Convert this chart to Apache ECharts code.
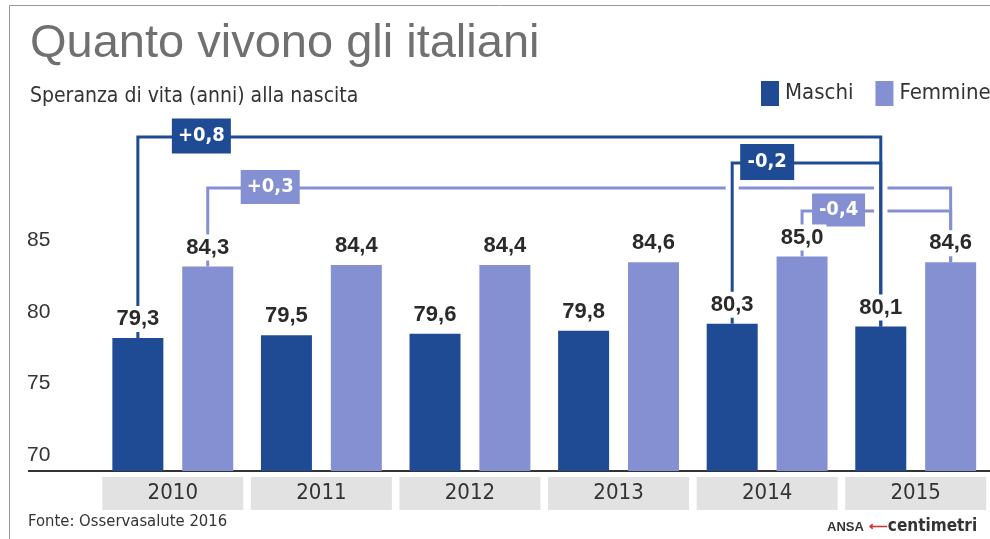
<!DOCTYPE html>
<html>
<head>
<meta charset="utf-8">
<script src="https://cdn.jsdelivr.net/npm/echarts@6/dist/echarts.min.js"></script>
<style>
  html, body { margin: 0; padding: 0; background: #ffffff; }
  #chart { width: 990px; height: 539px; }
</style>
</head>
<body>
<div id="chart"></div>
<script>
// Life expectancy at birth in Italy, by sex
const years = ['2010', '2011', '2012', '2013', '2014', '2015'];
const maschi = [79.3, 79.5, 79.6, 79.8, 80.3, 80.1];
const femmine = [84.3, 84.4, 84.4, 84.6, 85.0, 84.6];
const yTicks = [70, 75, 80, 85];

const NARROW = "'Liberation Sans Narrow', 'Arial Narrow', 'DejaVu Sans Condensed', 'Liberation Sans', sans-serif";
const SANS = "'Liberation Sans', Arial, sans-serif";
const DARK = '#1e4b94';
const LIGHT = '#8590d2';
const BAR_W = 51;
const BAR_GAP = 0.37;

// Change brackets: which series, first and last year index, height of the
// connecting line (px), box offset from the left leg and box size
const brackets = [
  { s: 1, from: 0, to: 5, lineY: 188, dx: 33, w: 59, h: 34 },
  { s: 1, from: 4, to: 5, lineY: 211, dx: 10, w: 53, h: 33 },
  { s: 0, from: 0, to: 5, lineY: 137, dx: 34, w: 59, h: 35 },
  { s: 0, from: 4, to: 5, lineY: 163, dx: 8, w: 54, h: 36 }
];

const fmt = v => v.toFixed(1).replace('.', ',');
const seriesVals = [maschi, femmine];

function deltaText(b) {
  const vals = seriesVals[b.s];
  const d = Math.round((vals[b.to] - vals[b.from]) * 10) / 10;
  return (d > 0 ? '+' : '') + fmt(d);
}

function renderBracket(params, api) {
  const b = brackets[params.dataIndex];
  const vals = seriesVals[b.s];
  const off = (b.s === 0 ? -1 : 1) * BAR_W * (1 + BAR_GAP) / 2;
  const p1 = api.coord([b.from, vals[b.from]]);
  const p2 = api.coord([b.to, vals[b.to]]);
  const x1 = p1[0] + off, x2 = p2[0] + off;
  const L = b.lineY;
  const pts = [[x1, p1[1]], [x1, L], [x2, L], [x2, p2[1]]];
  const dark = b.s === 0;
  const color = dark ? DARK : LIGHT;
  const children = [];
  if (dark) {
    // white halo so the dark legs cut through the lighter lines they cross
    children.push({
      type: 'polyline', z2: 2, shape: { points: pts },
      style: { stroke: '#ffffff', lineWidth: 13, fill: null }
    });
  }
  children.push({
    type: 'polyline', z2: dark ? 3 : 1, shape: { points: pts },
    style: { stroke: color, lineWidth: 3, fill: null }
  });
  const bx = x1 + b.dx;
  children.push({
    type: 'rect', z2: 5,
    shape: { x: bx, y: L - b.h / 2 - 1, width: b.w, height: b.h },
    style: { fill: color }
  });
  children.push({
    type: 'text', z2: 6,
    x: bx + b.w / 2, y: L - 1,
    style: {
      text: deltaText(b), fill: '#ffffff', align: 'center', verticalAlign: 'middle',
      font: "bold 20px " + NARROW
    }
  });
  return { type: 'group', children: children };
}

const chart = echarts.init(document.getElementById('chart'), null, { renderer: 'canvas' });

const barLabel = {
  show: true, position: 'top', distance: 6,
  formatter: p => fmt(p.value),
  fontSize: 22, fontWeight: 'bold', color: '#2a2a2a', fontFamily: SANS,
  backgroundColor: '#ffffff', padding: [2, 3]
};

chart.setOption({
  animation: false,
  backgroundColor: '#ffffff',
  title: [
    {
      text: 'Quanto vivono gli italiani', left: 30, top: 21, padding: 0,
      textStyle: { fontSize: 47, fontWeight: 'normal', color: '#707070', fontFamily: SANS }
    },
    {
      text: 'Speranza di vita (anni) alla nascita', left: 30, top: 86, padding: 0,
      textStyle: { fontSize: 21, fontWeight: 'normal', color: '#333333', fontFamily: NARROW }
    },
    {
      text: 'Fonte: Osservasalute 2016', left: 28, top: 513, padding: 0,
      textStyle: { fontSize: 16.5, fontWeight: 'normal', color: '#333333', fontFamily: NARROW }
    },
    {
      text: '{a|ANSA} {r|⟵}{c|centimetri}', left: 827, top: 518, padding: 0,
      textStyle: {
        rich: {
          a: { fontSize: 13, fontWeight: 'bold', color: '#333333', fontFamily: SANS },
          r: { fontSize: 13, color: '#d03030', fontFamily: SANS },
          c: { fontSize: 17, color: '#333333', fontFamily: NARROW }
        }
      }
    }
  ],
  legend: {
    data: ['Maschi', 'Femmine'], left: 761, top: 81, width: 400, padding: 0, icon: 'rect',
    itemWidth: 18, itemHeight: 25, itemGap: 22,
    textStyle: { fontSize: 22, color: '#333333', fontFamily: NARROW, padding: [0, 0, 0, 1] }
  },
  grid: { left: 98.5, width: 894, top: 113.5, height: 357.5 },
  xAxis: {
    type: 'category', data: years,
    axisLine: { show: false }, axisTick: { show: false },
    axisLabel: {
      margin: 6, backgroundColor: '#e2e2e2', width: 141, height: 33, lineHeight: 33,
      align: 'center', fontSize: 22, color: '#333333', fontFamily: NARROW
    }
  },
  yAxis: {
    type: 'value', min: 70, max: 95, interval: 5,
    splitLine: { show: false }, axisLine: { show: false }, axisTick: { show: false },
    axisLabel: {
      align: 'left', margin: 71.5, verticalAlign: 'bottom', lineHeight: 22, padding: [0, 0, 5, 0],
      fontSize: 21, color: '#333333', fontFamily: SANS,
      formatter: v => (yTicks.indexOf(v) >= 0 ? String(v) : '')
    }
  },
  series: [
    {
      name: 'Maschi', type: 'bar', data: maschi, barWidth: BAR_W, barGap: '37%', z: 2,
      itemStyle: { color: DARK }, label: barLabel
    },
    {
      name: 'Femmine', type: 'bar', data: femmine, barWidth: BAR_W, z: 2,
      itemStyle: { color: LIGHT }, label: barLabel
    },
    {
      type: 'custom', z: 1, silent: true,
      data: brackets.map((b, i) => [b.from, 70]),
      renderItem: renderBracket
    }
  ],
  graphic: [
    { type: 'line', shape: { x1: 28, y1: 471, x2: 990, y2: 471 }, style: { stroke: '#333333', lineWidth: 2 } },
    { type: 'line', shape: { x1: 9.5, y1: 5, x2: 9.5, y2: 539 }, style: { stroke: '#9a9a9a', lineWidth: 1 } },
    { type: 'line', shape: { x1: 9, y1: 5.5, x2: 990, y2: 5.5 }, style: { stroke: '#9a9a9a', lineWidth: 1 } }
  ]
});
</script>
</body>
</html>
